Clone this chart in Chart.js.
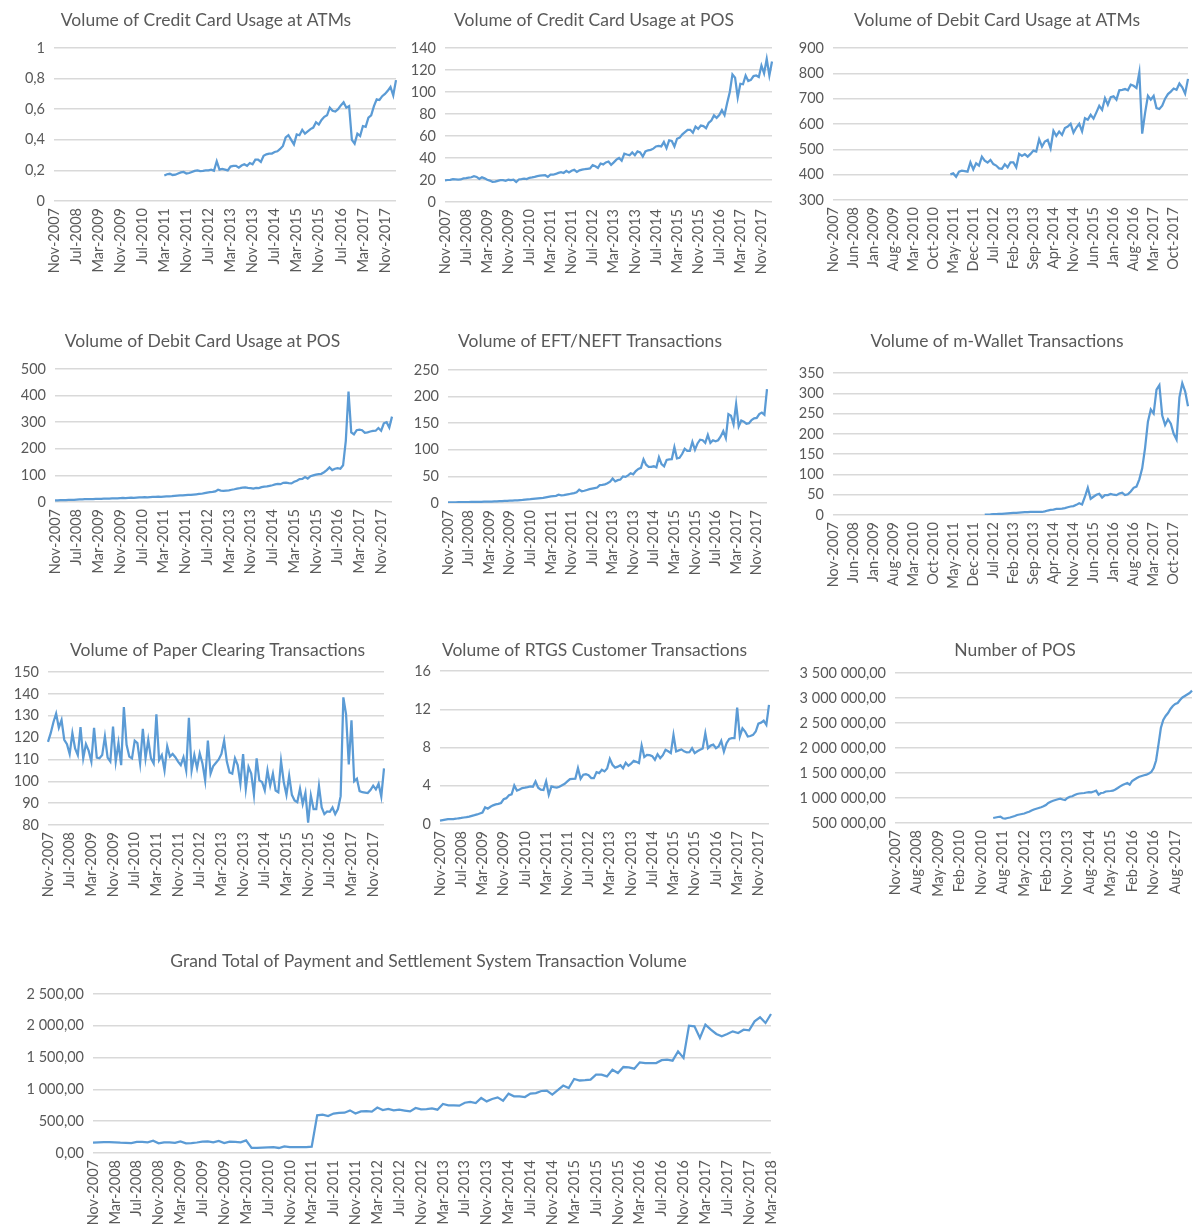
<!DOCTYPE html>
<html>
<head>
<meta charset="utf-8">
<title>Payment and Settlement System Charts</title>
<script src="https://cdn.jsdelivr.net/npm/chart.js"></script>
<style>
    html, body { margin: 0; padding: 0; background: #ffffff; }
    body { width: 1194px; height: 1228px; overflow: hidden; position: relative; }
    .box { position: absolute; }
    .box canvas { display: block; }
</style>
</head>
<body>
<div id="charts"></div>

<script>
    // monthly labels, Nov-2007 .. Mar-2018 (125 months)
    var MONTH_NAMES = ['Jan', 'Feb', 'Mar', 'Apr', 'May', 'Jun', 'Jul', 'Aug', 'Sep', 'Oct', 'Nov', 'Dec'];
    var months = [];
    for (var k = 0; k < 125; k++) {
        months.push(MONTH_NAMES[(10 + k) % 12] + '-' + (2007 + Math.floor((10 + k) / 12)));
    }

    // no data before the series starts
    function gap(n) { return new Array(n).fill(null); }

    // Volume of Credit Card Usage at ATMs (from Mar-2011)
    var creditAtm = gap(40).concat([
        0.167, 0.175, 0.178, 0.17, 0.172, 0.18, 0.187, 0.19, 0.18, 0.183,
        0.19, 0.197, 0.2, 0.195, 0.197, 0.2, 0.2, 0.205, 0.198, 0.26,
        0.205, 0.21, 0.205, 0.2, 0.225, 0.23, 0.23, 0.218, 0.232, 0.24,
        0.23, 0.248, 0.24, 0.27, 0.27, 0.255, 0.295, 0.305, 0.31, 0.31,
        0.32, 0.325, 0.34, 0.36, 0.415, 0.43, 0.4, 0.37, 0.435, 0.43,
        0.465, 0.44, 0.455, 0.47, 0.48, 0.515, 0.5, 0.53, 0.55, 0.56,
        0.61, 0.59, 0.585, 0.6, 0.625, 0.645, 0.61, 0.62, 0.40, 0.375,
        0.44, 0.425, 0.49, 0.485, 0.545, 0.56, 0.62, 0.665, 0.66, 0.685,
        0.70, 0.72, 0.745, 0.69, 0.79
    ]);

    // Volume of Credit Card Usage at POS
    var creditPos = [
        19.7, 20, 20.2, 20.8, 20.6, 20.3, 20.5, 21.5, 21.8, 22.2,
        22.5, 23.5, 22.8, 21, 22.5, 21.5, 20.2, 19.5, 18.3, 18.5,
        19.2, 19.8, 19.8, 19.3, 20.2, 19.8, 20.3, 18.2, 20.5, 20.8,
        21.2, 20.8, 22, 22.3, 22.8, 23.5, 23.9, 24.1, 24.3, 22.8,
        24.8, 24.8, 25.5, 26.5, 27.2, 26.4, 28.3, 26.8, 28.4, 29.2,
        27.3, 28.8, 29.5, 29.8, 30.2, 30.5, 33.5, 32.5, 31, 35,
        34.2, 36, 36.8, 33.7, 36, 38.5, 40, 37.5, 44, 43.2,
        42.5, 45, 42.5, 46, 45, 41.3, 46, 47, 47.4, 48.5,
        50.5, 51, 50.5, 54.5, 49, 56, 55.5, 50.5, 57.5, 58.5,
        61.5, 63.5, 65.5, 65.6, 63, 68.6, 66.5, 69.5, 69, 67,
        72, 74, 78.7, 76.5, 79, 83.5, 79, 90, 100, 116,
        113, 95, 107.5, 107, 115, 110, 111, 114.5, 115, 113.6,
        124, 117, 130, 115, 127.8
    ];

    // Volume of Debit Card Usage at ATMs (from Apr-2011)
    var debitAtm = gap(41).concat([
        401, 405, 392, 412, 416, 414, 412, 449, 421, 445,
        436, 471, 455, 448, 458, 442, 436, 425, 423, 441,
        429, 449, 449, 429, 482, 474, 481, 471, 482, 495,
        491, 540, 511, 531, 537, 504, 573, 553, 570, 557,
        584, 590, 601, 566, 586, 601, 571, 623, 617, 636,
        621, 646, 672, 656, 702, 676, 706, 709, 696, 733,
        735, 738, 733, 755, 751, 742, 804, 562, 643, 711,
        696, 711, 663, 659, 672, 700, 718, 728, 740, 735,
        760, 745, 720, 778
    ]);

    // Volume of Debit Card Usage at POS
    var debitPos = [
        6, 6.2, 6.6, 7, 7.1, 7.6, 8, 8.4, 9.1, 9.5,
        10, 10.6, 11, 10.4, 11, 11.6, 12, 11.8, 12.5, 13.1,
        13, 13.6, 14, 13.8, 14.5, 15.2, 15, 15.6, 16, 15.8,
        16.5, 17.2, 17.5, 18, 17.8, 18.6, 19, 19.6, 20, 19.7,
        20.5, 21.2, 21.5, 22, 23, 24, 24.6, 25, 26.2, 27,
        26.8, 28, 29, 30.2, 31, 33, 35.2, 37, 38, 40,
        46, 43, 42, 43, 44, 46, 48, 50.5, 52, 54,
        55, 53, 52, 50, 53, 52, 56, 58, 59, 61,
        63, 66, 68, 67, 72, 73, 71, 70, 76, 80,
        86, 87, 94, 88, 97, 100, 103, 105, 106, 112,
        120, 130, 120, 125, 127, 125, 138, 230, 415, 262,
        254, 270, 272, 270, 260, 262, 265, 267, 268, 278,
        268, 296, 300, 280, 321
    ];

    // Volume of EFT/NEFT Transactions
    var eftNeft = [
        1.2, 1.3, 1.3, 1.4, 1.5, 1.6, 1.6, 1.7, 1.8, 1.9,
        2, 2.1, 2.2, 2.3, 2.4, 2.5, 2.7, 2.8, 3, 3.2,
        3.5, 3.7, 3.9, 4.1, 4.3, 4.6, 4.9, 5.1, 5.4, 5.8,
        6.5, 6.8, 7.2, 7.8, 8.3, 8.8, 9.2, 9.6, 10.5, 11.5,
        12.5, 13, 13.5, 15.5, 14.5, 15, 15.8, 16.5, 17.8, 18.5,
        20, 25, 22, 23, 24.5, 26, 27, 28, 29, 33.5,
        34, 35, 37, 40, 46, 40.6, 43, 44, 50, 49,
        52, 56, 54, 60, 64, 66, 82, 72, 68, 68,
        69, 67, 86, 73, 69, 81, 82, 82.5, 105, 84,
        85, 92, 102, 98, 98, 115, 100, 112, 119, 118,
        113, 128, 113, 118, 116, 118, 125, 135, 122, 167,
        164, 148, 186, 144, 155, 153, 149, 150, 156, 159,
        160, 167, 170, 166, 214
    ];

    // Volume of m-Wallet Transactions (from Apr-2012)
    var mWallet = gap(53).concat([
        1, 1.2, 1.5, 2, 2, 2.5, 3, 3.5, 4, 4.5,
        5, 5.5, 6, 6.5, 6.8, 7, 7.5, 8, 8, 7.5,
        7.4, 9, 11, 12.5, 13.5, 15, 15, 15.5, 17, 19,
        21, 22, 25, 29, 26, 45, 67, 40, 45, 50,
        52, 43, 49, 49, 52, 50, 49, 53, 55, 49,
        51, 58, 67, 70, 88, 115, 165, 230, 260, 250,
        309, 320, 245, 222, 236, 225, 200, 186, 290, 325,
        305, 268
    ]);

    // Volume of Paper Clearing Transactions
    var paperClearing = [
        118, 122, 127, 131, 124.5, 128, 119, 117, 112.5, 122,
        115, 112, 124.8, 110.5, 117, 114, 109, 124.5, 110.8, 110.5,
        112, 120.5, 110.8, 109, 125, 109, 117.5, 107.4, 134, 116.7,
        111.3, 110.5, 118.6, 117.5, 108.2, 124, 110.5, 119, 110.5, 108.2,
        130.6, 109.7, 112, 105, 116, 111.3, 112.5, 111, 109, 107.4,
        111, 105, 129, 105, 112, 106, 112.8, 108.2, 100.4, 118.6,
        103.5, 107, 108.5, 110, 112.5, 118.6, 109, 104, 103.5, 110.5,
        107.4, 98.9, 112.4, 96.6, 106.6, 103.5, 93.8, 110.5, 100.4, 99.7,
        95.8, 105, 98, 103.5, 95.8, 95, 109.3, 99.7, 93.8, 102.5,
        93.8, 91.2, 90.4, 96.6, 89.6, 94.7, 81.1, 93.5, 87.3, 87.3,
        97.8, 88, 85, 86.2, 86, 88, 85, 87.3, 93.2, 138.4,
        130.6, 107.7, 127.9, 100, 101.2, 95.5, 95, 94.8, 94.6, 96,
        98, 96.3, 98.9, 93, 105.9
    ];

    // Volume of RTGS Customer Transactions
    var rtgs = [
        0.35, 0.4, 0.45, 0.5, 0.5, 0.52, 0.55, 0.6, 0.63, 0.68,
        0.72, 0.78, 0.85, 0.92, 1.0, 1.1, 1.2, 1.74, 1.6, 1.8,
        1.95, 2.05, 2.1, 2.2, 2.6, 2.7, 3.0, 3.1, 4.03, 3.5,
        3.6, 3.76, 3.8, 3.86, 3.93, 3.9, 4.45, 3.8, 3.6, 3.55,
        4.45, 3.06, 3.93, 3.85, 3.8, 3.9, 4.05, 4.2, 4.45, 4.7,
        4.72, 4.73, 5.84, 4.73, 5.15, 5.2, 5.1, 4.8, 4.8, 5.43,
        5.32, 5.67, 5.5, 5.8, 6.82, 6.19, 5.9, 6.0, 6.15, 5.84,
        6.4, 6.1, 6.3, 6.6, 6.5, 6.37, 8.2, 7.0, 7.23, 7.2,
        7.1, 6.71, 7.3, 6.89, 7.2, 7.76, 7.6, 7.41, 9.32, 7.58,
        7.7, 7.8, 7.6, 7.48, 7.5, 7.93, 7.41, 7.6, 7.76, 7.9,
        9.5, 7.93, 8.2, 8.3, 7.93, 8.1, 8.7, 7.58, 8.45, 8.9,
        8.97, 8.97, 12.17, 9.15, 10.0, 9.67, 9.15, 9.2, 9.32, 9.67,
        10.5, 10.6, 10.8, 10.37, 12.45
    ];

    // Number of POS (from Apr-2011)
    var posCount = gap(41).concat([
        600000, 610000, 620000, 627000, 595000, 590000, 600000, 610000, 625000, 640000,
        660000, 670000, 680000, 690000, 710000, 725000, 750000, 770000, 785000, 800000,
        815000, 833000, 860000, 900000, 925000, 945000, 960000, 975000, 987000, 970000,
        960000, 1000000, 1025000, 1035000, 1060000, 1080000, 1090000, 1095000, 1100000, 1110000,
        1118000, 1115000, 1130000, 1147000, 1067000, 1100000, 1105000, 1130000, 1135000, 1140000,
        1147000, 1170000, 1200000, 1233000, 1260000, 1280000, 1300000, 1267000, 1340000, 1370000,
        1400000, 1425000, 1440000, 1455000, 1467000, 1490000, 1520000, 1600000, 1750000, 2067000,
        2400000, 2560000, 2640000, 2700000, 2780000, 2840000, 2880000, 2900000, 2960000, 3010000,
        3040000, 3070000, 3100000, 3147000
    ]);

    // Grand Total of Payment and Settlement System Transaction Volume
    var grandTotal = [
        162, 168, 170, 170, 168, 162, 160, 157, 175, 175,
        168, 194, 152, 168, 168, 160, 183, 152, 157, 165,
        178, 183, 168, 190, 157, 178, 173, 168, 199, 79,
        79, 84, 90, 94, 79, 105, 94, 94, 94, 94,
        100, 592, 603, 582, 620, 632, 634, 670, 620, 655,
        660, 650, 715, 676, 692, 672, 681, 668, 655, 708,
        685, 690, 702, 681, 770, 750, 748, 744, 790, 802,
        786, 865, 812, 850, 875, 823, 933, 891, 891, 880,
        935, 943, 975, 980, 917, 990, 1060, 1022, 1163, 1140,
        1145, 1153, 1232, 1232, 1205, 1310, 1258, 1352, 1347, 1326,
        1425, 1415, 1415, 1415, 1460, 1467, 1452, 1598, 1494, 2002,
        1992, 1808, 2018, 1939, 1871, 1834, 1870, 1913, 1887, 1939,
        1929, 2070, 2133, 2044, 2185
    ];

    var FONT = 'Lato, "Open Sans", sans-serif';
    var TEXT = '#595959';
    var LINE = '#5B9BD5';
    var GRID = '#d9d9d9';

    // number formats like the source (space thousands, comma decimals)
    function fmtPlain(v) { return String(Math.round(v * 100) / 100).replace('.', ','); }
    function fmtTwo(v) {
        var parts = v.toFixed(2).split('.');
        return parts[0].replace(/\B(?=(\d{3})+(?!\d))/g, ' ') + ',' + parts[1];
    }

    // plot box = where the gridlines are; cx/cy = title centre
    var charts = [
        { title: 'Volume of Credit Card Usage at ATMs', data: creditAtm, min: 0, max: 1, step: 0.2, fmt: fmtPlain, every: 8,
          plotL: 54, plotR: 396, plotT: 48, plotB: 201, cx: 206, cy: 20, left: 10 },
        { title: 'Volume of Credit Card Usage at POS', data: creditPos, min: 0, max: 140, step: 20, fmt: fmtPlain, every: 8,
          plotL: 445, plotR: 772, plotT: 48, plotB: 202, cx: 594, cy: 20, left: 410 },
        { title: 'Volume of Debit Card Usage at ATMs', data: debitAtm, min: 300, max: 900, step: 100, fmt: fmtPlain, every: 7,
          plotL: 833, plotR: 1188, plotT: 48, plotB: 200, cx: 997, cy: 20, left: 798 },
        { title: 'Volume of Debit Card Usage at POS', data: debitPos, min: 0, max: 500, step: 100, fmt: fmtPlain, every: 8,
          plotL: 55, plotR: 392, plotT: 369, plotB: 502, cx: 202.5, cy: 341, left: 8 },
        { title: 'Volume of EFT/NEFT Transactions', data: eftNeft, min: 0, max: 250, step: 50, fmt: fmtPlain, every: 8,
          plotL: 448, plotR: 767, plotT: 370, plotB: 503, cx: 590, cy: 341, left: 408 },
        { title: 'Volume of m-Wallet Transactions', data: mWallet, min: 0, max: 350, step: 50, fmt: fmtPlain, every: 7,
          plotL: 833, plotR: 1188, plotT: 373, plotB: 515, cx: 997, cy: 341, left: 798 },
        { title: 'Volume of Paper Clearing Transactions', data: paperClearing, min: 80, max: 150, step: 10, fmt: fmtPlain, every: 8,
          plotL: 48, plotR: 384, plotT: 672, plotB: 825, cx: 217.5, cy: 650, left: 8 },
        { title: 'Volume of RTGS Customer Transactions', data: rtgs, min: 0, max: 16, step: 4, fmt: fmtPlain, every: 8,
          plotL: 440, plotR: 769, plotT: 671, plotB: 824, cx: 594.5, cy: 650, left: 408 },
        { title: 'Number of POS', data: posCount, min: 500000, max: 3500000, step: 500000, fmt: fmtTwo, every: 9,
          plotL: 895, plotR: 1192, plotT: 673, plotB: 823, cx: 1015, cy: 650, left: 795 },
        { title: 'Grand Total of Payment and Settlement System Transaction Volume', data: grandTotal, min: 0, max: 2500, step: 500, fmt: fmtTwo, every: 4,
          plotL: 93, plotR: 771, plotT: 994, plotB: 1153, cx: 428.5, cy: 961, left: 15 }
    ];

    document.addEventListener('DOMContentLoaded', function () {
        charts.forEach(createLineChart);
    });

    function createLineChart(c, n) {
        var TITLE_SIZE = 17.5;
        var lineH = TITLE_SIZE * 1.2;
        var top = c.cy - 20;
        var right = 2 * c.cx - c.left;          // canvas symmetric around title centre
        var width = right - c.left;
        var xAxisH = 85;
        var height = c.plotB - top + xAxisH;
        var yW = c.plotL - c.left;
        var rightGap = right - c.plotR;

        var box = document.createElement('div');
        box.className = 'box';
        box.style.left = c.left + 'px';
        box.style.top = top + 'px';
        var canvas = document.createElement('canvas');
        canvas.id = 'chart' + n;
        canvas.width = width;
        canvas.height = height;
        canvas.style.width = width + 'px';
        canvas.style.height = height + 'px';
        box.appendChild(canvas);
        document.getElementById('charts').appendChild(box);

        new Chart(canvas.getContext('2d'), {
            type: 'line',
            data: {
                labels: months,
                datasets: [{
                    label: c.title,
                    data: c.data,
                    borderColor: LINE,
                    borderWidth: 2.25,
                    pointRadius: 0,
                    fill: false,
                    tension: 0
                }]
            },
            options: {
                responsive: false,
                animation: false,
                layout: { padding: 0 },
                plugins: {
                    legend: { display: false },
                    tooltip: { enabled: false },
                    title: {
                        display: true,
                        text: c.title,
                        color: TEXT,
                        font: { family: FONT, size: TITLE_SIZE, weight: 'normal' },
                        padding: { top: 20 - lineH / 2, bottom: c.plotT - c.cy - lineH / 2 }
                    }
                },
                scales: {
                    x: {
                        offset: false,
                        grid: { display: false, drawTicks: false },
                        border: { display: false },
                        ticks: {
                            autoSkip: false,
                            minRotation: 90,
                            maxRotation: 90,
                            padding: 7,
                            color: TEXT,
                            font: { family: FONT, size: 14.5 },
                            callback: function (v, i) { return i % c.every === 0 ? months[i] : ''; }
                        },
                        afterFit: function (s) { s.height = xAxisH; s.paddingLeft = 0; s.paddingRight = 0; }
                    },
                    y: {
                        min: c.min,
                        max: c.max,
                        grid: { color: GRID, lineWidth: 1.5, drawTicks: false },
                        border: { display: false },
                        ticks: {
                            stepSize: c.step,
                            autoSkip: false,
                            padding: 9,
                            color: TEXT,
                            font: { family: FONT, size: 14.5 },
                            callback: function (v) { return c.fmt(v); }
                        },
                        afterFit: function (s) { s.width = yW; s.paddingTop = 0; s.paddingBottom = 0; }
                    },
                    // empty right-hand box so the title stays centred where the source has it
                    gap: {
                        position: 'right',
                        display: true,
                        grid: { display: false, drawTicks: false },
                        border: { display: false },
                        ticks: { display: false },
                        afterFit: function (s) { s.width = rightGap; s.paddingTop = 0; s.paddingBottom = 0; }
                    }
                }
            }
        });
    }
</script>
</body>
</html>
